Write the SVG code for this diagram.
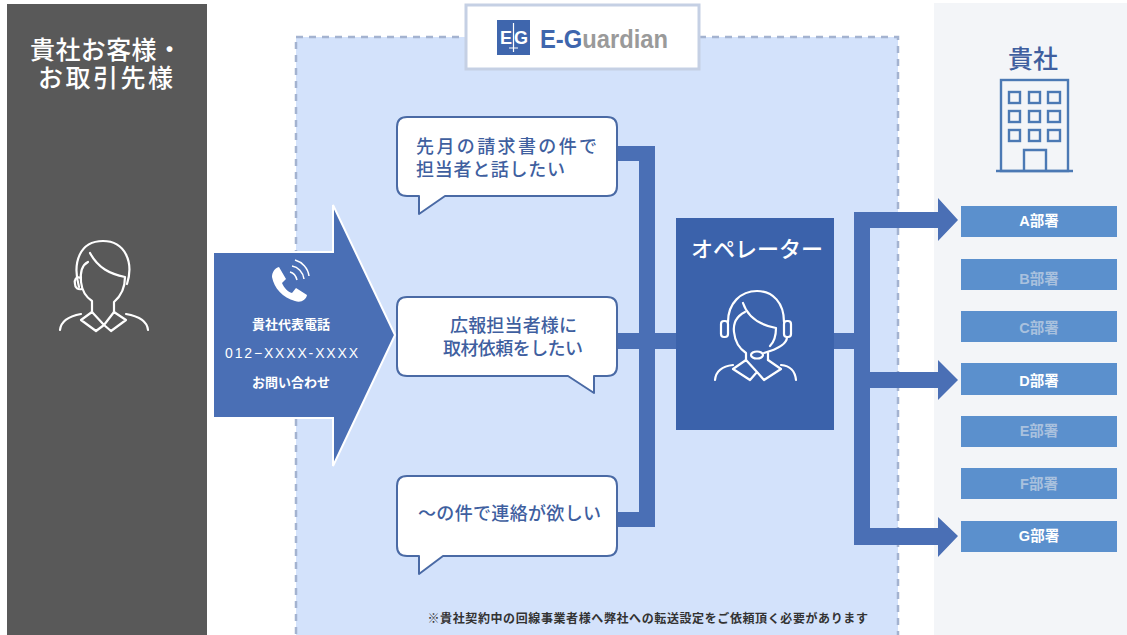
<svg xmlns="http://www.w3.org/2000/svg" xmlns:xlink="http://www.w3.org/1999/xlink" width="1127" height="635" viewBox="0 0 1127 635">
<style>
text{font-family:"Liberation Sans","Noto Sans CJK JP",sans-serif;text-anchor:middle}
.s{text-anchor:start}
.bub{fill:#fff;stroke:#4a6aa5;stroke-width:2;stroke-linejoin:round}
.bt{font-size:18px;font-weight:500;fill:#3f5f9f;text-anchor:start}
.ico{fill:none;stroke:#fff;stroke-width:2.2;stroke-linecap:round;stroke-linejoin:round}
.dept{fill:#5b90cd}
.dt{font-size:14.500px;font-weight:700;fill:#fff}
.df{font-size:14.500px;font-weight:700;fill:#a9c1de}
.con{fill:#4a6fb5}
.bld{fill:none;stroke:#4b79b4;stroke-width:2.400}
.wt{fill:#fff;font-weight:700;font-size:13px}
.ttl{font-size:25px;font-weight:500;fill:#fff;text-anchor:start}
</style>
<rect width="1127" height="635" fill="#fff"/>
<g id="customer">
<rect x="7" y="4" width="200" height="631" fill="#595959"/>
<text class="ttl" x="30" y="59" textLength="152">貴社お客様・</text>
<text class="ttl" x="38" y="87" textLength="135">お取引先様</text>
<g class="ico">
<path d="M79,287C72,262 80,241 103,241C125,241 134,262 127,284"/>
<path d="M90,253C98,268 110,274 125,277C125,287 121,296 114,302L114,312"/>
<path d="M88,262C82,265 80,272 81,282C82,291 86,297 92,301L92,312"/>
<path d="M81,278C76,276 74,280 75,284C75,288 78,290 82,289"/>
<path d="M92,312L81,320L96,331L104,325L92,312M114,312L126,320L111,331L104,325L114,312"/>
<path d="M60,330C61,320 70,316 81,314M148,330C147,320 138,316 126,314"/>
</g>
</g>
<g id="guardian">
<rect x="296" y="37" width="602" height="600" fill="#d3e2fb" stroke="#a4b3d0" stroke-width="2.500" stroke-dasharray="7 6"/>
<rect x="466" y="5" width="233" height="64" fill="#fff" stroke="#c5d0e4" stroke-width="3"/>
<rect x="497" y="20" width="33" height="35" fill="#3f66ad"/>
<text x="506" y="44" font-size="18" font-weight="700" fill="#fff">E</text>
<text x="521" y="44" font-size="18" font-weight="700" fill="#fff">G</text>
<path d="M513.500,23V52M509,48H518" stroke="#fff" stroke-width="1.200" fill="none"/>
<text class="s" x="540" y="48" font-size="26" font-weight="700" fill="#9a9a9a" textLength="128" lengthAdjust="spacingAndGlyphs"><tspan fill="#3f66ad">E-G</tspan>uardian</text>
</g>
<g id="company">
<rect x="934" y="3" width="193" height="632" fill="#f3f5f8"/>
<text class="ttl" x="1008" y="68" textLength="50" style="fill:#3f5f9f">貴社</text>
<g id="building" class="bld">
<rect x="1001" y="80" width="67" height="91"/>
<path d="M996,171H1073M1024,171V150H1046V171"/>
<rect x="1009" y="92" width="11" height="11"/><rect x="1029" y="92" width="11" height="11"/><rect x="1048" y="92" width="12" height="11"/>
<rect x="1009" y="111" width="11" height="11"/><rect x="1029" y="111" width="11" height="11"/><rect x="1048" y="111" width="12" height="11"/>
<rect x="1009" y="130" width="11" height="11"/><rect x="1029" y="130" width="11" height="11"/><rect x="1048" y="130" width="12" height="11"/>
</g>
</g>
<g id="connectors">
<path class="con" d="M617,146H655V527H617V512H639V349H617V333H639V161H617Z"/>
<rect class="con" x="655" y="333" width="21" height="16"/>
<rect class="con" x="834" y="333" width="20" height="16"/>
<path class="con" d="M854,212H938V198L958,220L938,241V228H870V372H938V360L958,380L938,400V388H870V528H938V517L958,536L938,557V545H854Z"/>
</g>
<g id="call-arrow">
<path d="M213,252H333V205L395,335L333,466V418H213Z" fill="#4a6fb5" stroke="#fff" stroke-width="2"/>
<path d="M279,267L286,279L282,283C284,288 288,292 292,293L296,288L307,295C306,300 301,303 295,301C283,298 274,288 272,277C272,272 275,268 279,267Z" fill="#fff"/>
<path d="M290,272C294,273 296,276 297,280M292,266C298,267 303,272 304,279M295,260C302,262 308,268 309,276" fill="none" stroke="#fff" stroke-width="1.500"/>
<text class="wt" x="291" y="329">貴社代表電話</text>
<text class="s" x="225" y="358" font-size="14" fill="#fff" textLength="133">012−XXXX-XXXX</text>
<text class="wt" x="291" y="387">お問い合わせ</text>
</g>
<g id="bubble-1">
<path class="bub" d="M407,117H607Q617,117 617,127V186Q617,196 607,196H445L419,214V196H407Q397,196 397,186V127Q397,117 407,117Z"/>
<text class="bt" x="416" y="153" textLength="181">先月の請求書の件で</text>
<text class="bt" x="416" y="176" textLength="149">担当者と話したい</text>
</g>
<g id="bubble-2">
<path class="bub" d="M407,297H607Q617,297 617,307V366Q617,376 607,376H594V393L568,376H407Q397,376 397,366V307Q397,297 407,297Z"/>
<text class="bt" x="450" y="332" textLength="127">広報担当者様に</text>
<text class="bt" x="443" y="355" textLength="140">取材依頼をしたい</text>
</g>
<g id="bubble-3">
<path class="bub" d="M407,476H607Q617,476 617,486V546Q617,556 607,556H443L419,574V556H407Q397,556 397,546V486Q397,476 407,476Z"/>
<text class="bt" x="418" y="520" textLength="183">〜の件で連絡が欲しい</text>
</g>
<g id="operator">
<rect x="676" y="218" width="158" height="212" fill="#3b62ab"/>
<text class="ttl" x="691" y="257" style="font-size:22px" textLength="132">オペレーター</text>
<g class="ico">
<path d="M728,322C728,303 741,291 757,291C773,291 784,303 784,322"/>
<path d="M743,303C748,318 760,325 776,328C776,335 774,342 770,346"/>
<path d="M745,312C737,316 733,323 734,332C735,342 740,349 746,353L746,360"/>
<path d="M768,353V360"/>
<path d="M746,360L733,369L750,380L757,372L746,360M768,360L781,369L764,380L757,372"/>
<path d="M715,380C716,370 724,366 733,365M796,380C795,370 790,366 781,365"/>
<rect x="721" y="321" width="7" height="16" rx="3"/>
<rect x="784" y="321" width="7" height="16" rx="3"/>
<path d="M787,337C787,344 778,349 764,353"/>
<ellipse cx="757" cy="355" rx="6" ry="3.500"/>
</g>
</g>
<g id="dept-a"><rect class="dept" x="961" y="206" width="156" height="31"/><text class="dt" x="1039" y="225.500">A部署</text></g>
<g id="dept-b"><rect class="dept" x="961" y="259" width="156" height="31"/><text class="df" x="1039" y="283.500">B部署</text></g>
<g id="dept-c"><rect class="dept" x="961" y="311" width="156" height="31"/><text class="df" x="1039" y="332.500">C部署</text></g>
<g id="dept-d"><rect class="dept" x="961" y="363" width="156" height="32"/><text class="dt" x="1039" y="385.500">D部署</text></g>
<g id="dept-e"><rect class="dept" x="961" y="416" width="156" height="31"/><text class="df" x="1039" y="435.500">E部署</text></g>
<g id="dept-f"><rect class="dept" x="961" y="468" width="156" height="31"/><text class="df" x="1039" y="488.500">F部署</text></g>
<g id="dept-g"><rect class="dept" x="961" y="521" width="156" height="31"/><text class="dt" x="1039" y="541">G部署</text></g>
<text x="648" y="623" font-size="12" font-weight="700" fill="#333" letter-spacing=".6">※貴社契約中の回線事業者様へ弊社への転送設定をご依頼頂く必要があります</text>
</svg>
